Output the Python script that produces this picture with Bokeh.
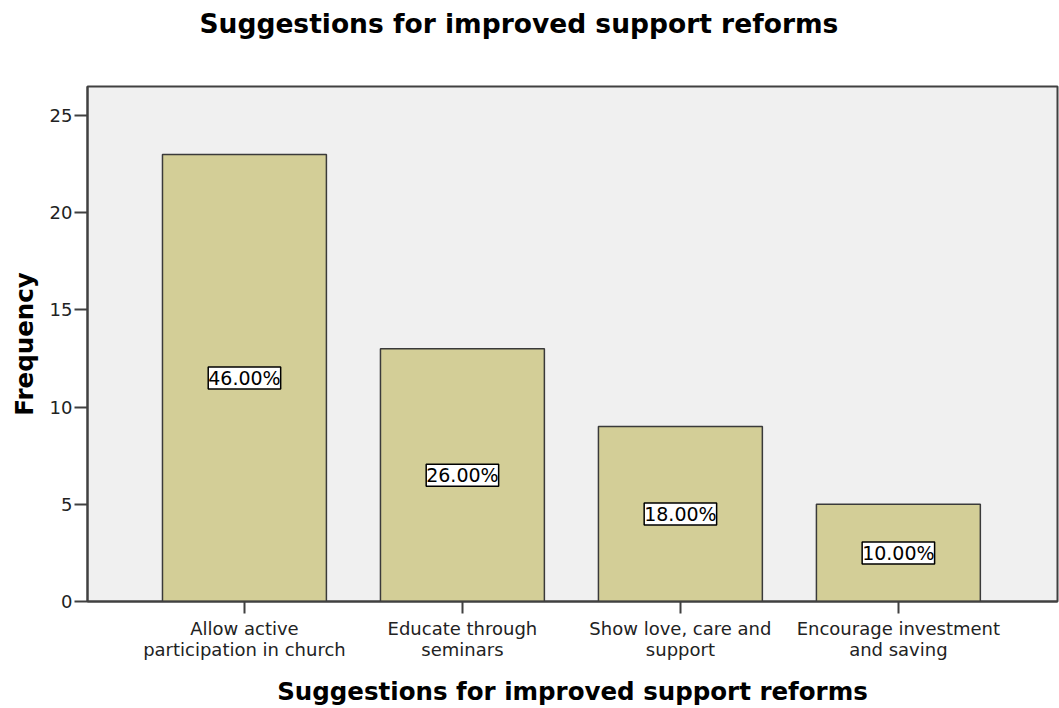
from bokeh.plotting import figure
from bokeh.models import ColumnDataSource, LabelSet, Range1d, FixedTicker, Title
from bokeh.core.properties import value
from bokeh.embed import file_html
from bokeh.resources import INLINE

categories = ["Allow active\nparticipation in church", "Educate through\nseminars",
              "Show love, care and\nsupport", "Encourage investment\nand saving"]
frequency = [23, 13, 9, 5]
percent_labels = ["46.00%", "26.00%", "18.00%", "10.00%"]
y_ticks = [0, 5, 10, 15, 20, 25]

xpos = list(range(1, len(categories) + 1))
src = ColumnDataSource(dict(x=xpos, top=frequency, mid=[f / 2 for f in frequency], lab=percent_labels))

p = figure(width=1059, height=708, output_backend="svg", toolbar_location=None,
           x_range=Range1d(0.28, 4.73), y_range=Range1d(0, 26.5),
           min_border_left=87, min_border_top=86, min_border_bottom=106, min_border_right=2)
p.background_fill_color = "#f0f0f0"
p.border_fill_color = "white"
p.outline_line_color = "#404040"
p.outline_line_width = 2
p.xgrid.visible = False
p.ygrid.visible = False

p.vbar(x="x", top="top", width=0.752, bottom=0, source=src,
       fill_color="#d3ce97", line_color="#3a3a3a", line_width=1.5)

labels = LabelSet(x="x", y="mid", text="lab", source=src, text_align="center", text_baseline="middle",
                  text_font=value("DejaVu Sans"), text_font_size="19px", text_color="black",
                  background_fill_color="white", border_line_color="black", border_line_width=1.5)
p.add_layout(labels)

spacer = Title(text=" ", text_font_size="1px", standoff=40)
p.add_layout(spacer, "above")
title = Title(text="Suggestions for improved support reforms", align="left", offset=112,
              text_font="DejaVu Sans", text_font_size="26.5px", text_font_style="bold",
              text_color="black", standoff=10)
p.add_layout(title, "above")

p.xaxis.ticker = FixedTicker(ticks=xpos)
p.xaxis.major_label_overrides = {i: c for i, c in zip(xpos, categories)}
p.yaxis.ticker = FixedTicker(ticks=y_ticks)
for ax in (p.xaxis, p.yaxis):
    ax.axis_line_color = "#404040"
    ax.axis_line_width = 2
    ax.major_tick_line_color = "#404040"
    ax.major_tick_line_width = 2
    ax.major_tick_in = 0
    ax.minor_tick_line_color = None
    ax.major_label_text_font = "DejaVu Sans"
    ax.major_label_text_font_size = "18px"
    ax.major_label_text_color = "#222222"
    ax.axis_label_text_font = "DejaVu Sans"
    ax.axis_label_text_font_size = "24.5px"
    ax.axis_label_text_font_style = "bold"
    ax.axis_label_text_color = "black"
p.xaxis.major_label_text_line_height = 1.0
p.xaxis.major_tick_out = 12
p.yaxis.major_tick_out = 13
p.xaxis.major_label_standoff = 4
p.yaxis.major_label_standoff = 2
p.xaxis.axis_label = "Suggestions for improved support reforms"
p.yaxis.axis_label = "Frequency"
p.xaxis.axis_label_standoff = 14
p.yaxis.axis_label_standoff = 8

open("out.html", "w").write(file_html(p, INLINE))
